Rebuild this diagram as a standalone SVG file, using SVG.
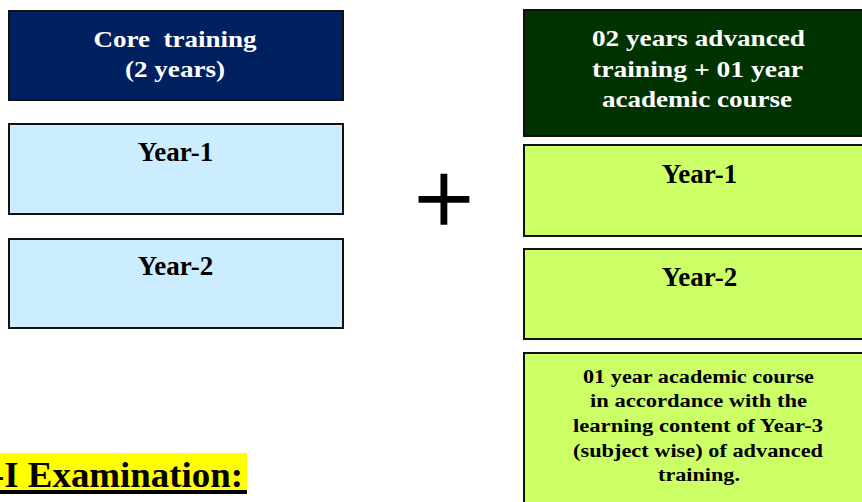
<svg xmlns="http://www.w3.org/2000/svg" width="862" height="502" viewBox="0 0 862 502">
<style>
.box{stroke:#111;stroke-width:2}
.t{font-family:"Liberation Serif","Times New Roman",serif;font-weight:bold;text-anchor:middle}
.w{fill:#fff}
.k{fill:#000}
</style>
<rect width="862" height="502" fill="#fff"/>
<g id="core-header">
<rect class="box" x="9" y="11" width="334" height="89" fill="#002060"/>
<text class="t w" x="175" y="47" font-size="24" textLength="163" lengthAdjust="spacingAndGlyphs" xml:space="preserve">Core  training</text>
<text class="t w" x="175" y="77" font-size="24" textLength="100" lengthAdjust="spacingAndGlyphs">(2 years)</text>
</g>
<g id="core-year1">
<rect class="box" x="9" y="124" width="334" height="90" fill="#CCECFF"/>
<text class="t k" x="175.5" y="161" font-size="27">Year-1</text>
</g>
<g id="core-year2">
<rect class="box" x="9" y="239" width="334" height="89" fill="#CCECFF"/>
<text class="t k" x="175.5" y="275" font-size="27">Year-2</text>
</g>
<g id="plus">
<text class="t" x="444" y="235" font-size="106" style="font-weight:normal" fill="#000" stroke="#000" stroke-width="1.5">+</text>
</g>
<g id="adv-header">
<rect class="box" x="524" y="10" width="352" height="126" fill="#003300"/>
<text class="t w" x="698.5" y="46" font-size="24" textLength="213" lengthAdjust="spacingAndGlyphs">02 years advanced</text>
<text class="t w" x="697.5" y="77" font-size="24" textLength="211" lengthAdjust="spacingAndGlyphs">training + 01 year</text>
<text class="t w" x="697" y="107" font-size="24" textLength="190" lengthAdjust="spacingAndGlyphs">academic course</text>
</g>
<g id="adv-year1">
<rect class="box" x="524" y="145" width="352" height="91" fill="#CCFF66"/>
<text class="t k" x="699.5" y="183" font-size="27">Year-1</text>
</g>
<g id="adv-year2">
<rect class="box" x="524" y="249" width="352" height="90" fill="#CCFF66"/>
<text class="t k" x="699.5" y="286" font-size="27">Year-2</text>
</g>
<g id="adv-academic">
<rect class="box" x="524" y="353" width="352" height="160" fill="#CCFF66"/>
<text class="t k" x="698.5" y="383" font-size="18" textLength="231" lengthAdjust="spacingAndGlyphs">01 year academic course</text>
<text class="t k" x="698.5" y="407" font-size="18" textLength="217" lengthAdjust="spacingAndGlyphs">in accordance with the</text>
<text class="t k" x="698" y="432" font-size="18" textLength="250" lengthAdjust="spacingAndGlyphs">learning content of Year-3</text>
<text class="t k" x="698" y="457" font-size="18" textLength="250" lengthAdjust="spacingAndGlyphs">(subject wise) of advanced</text>
<text class="t k" x="699" y="481" font-size="18" textLength="82" lengthAdjust="spacingAndGlyphs">training.</text>
</g>
<g id="exam-label">
<rect x="0" y="453" width="247" height="38" fill="#FFFF00"/>
<rect x="0" y="490" width="247" height="4" fill="#000"/>
<text x="-8" y="487" font-family="Liberation Serif, Times New Roman, serif" font-weight="bold" font-size="36" fill="#000" textLength="251" lengthAdjust="spacingAndGlyphs">-I Examination:</text>
</g>
</svg>
